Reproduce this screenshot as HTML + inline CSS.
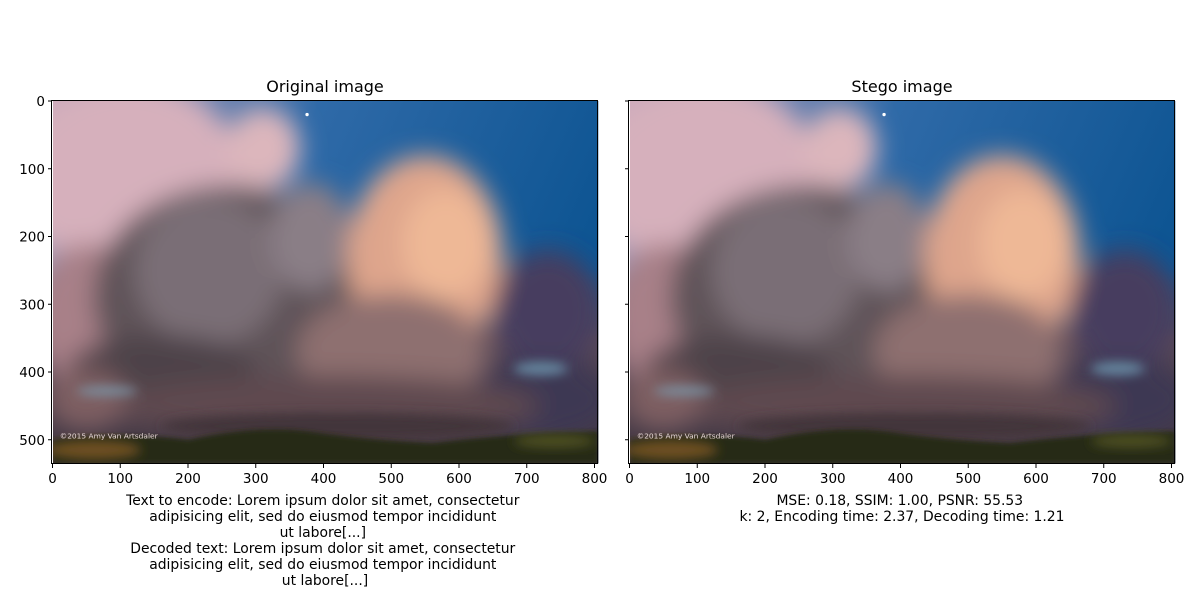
<!DOCTYPE html>
<html><head><meta charset="utf-8"><style>
body{margin:0;background:#fff;width:1200px;height:600px;overflow:hidden;font-family:"Liberation Sans","DejaVu Sans",sans-serif}
svg text{font-family:"DejaVu Sans","Liberation Sans",sans-serif;fill:#000}
</style></head><body>
<svg width="1200" height="600" viewBox="0 0 1200 600" xmlns="http://www.w3.org/2000/svg">
<defs>
<filter id="b20" x="-50%" y="-50%" width="200%" height="200%"><feGaussianBlur stdDeviation="18"/></filter>
<filter id="b8" x="-50%" y="-50%" width="200%" height="200%"><feGaussianBlur stdDeviation="8"/></filter>
<filter id="b3" x="-50%" y="-50%" width="200%" height="200%"><feGaussianBlur stdDeviation="3"/></filter>
<linearGradient id="sky" x1="0" y1="0" x2="1" y2="0.3"><stop offset="0" stop-color="#c9a8bc"/><stop offset="0.45" stop-color="#2f6aa8"/><stop offset="1" stop-color="#0e5593"/></linearGradient>
<linearGradient id="low" x1="0" y1="0" x2="0" y2="1"><stop offset="0" stop-color="#5a4a58" stop-opacity="0"/><stop offset="0.35" stop-color="#5a4a58"/><stop offset="1" stop-color="#3e3440"/></linearGradient>
<clipPath id="clip"><rect x="0" y="0" width="805" height="535"/></clipPath>
<g id="photo" clip-path="url(#clip)">
  <rect x="0" y="0" width="805" height="535" fill="url(#sky)"/>
  <rect x="0" y="250" width="805" height="285" fill="url(#low)"/>
  <g filter="url(#b20)">
    <ellipse cx="110" cy="110" rx="170" ry="140" fill="#d6b0bc"/>
    <ellipse cx="310" cy="70" rx="55" ry="60" fill="#dcb6bc"/>
    <ellipse cx="50" cy="320" rx="80" ry="110" fill="#a88088"/>
    <ellipse cx="260" cy="290" rx="200" ry="165" fill="#5e5258"/>
    <ellipse cx="230" cy="250" rx="110" ry="110" fill="#7a6e76"/>
    <ellipse cx="380" cy="200" rx="60" ry="80" fill="#8a7e86"/>
    <ellipse cx="550" cy="230" rx="115" ry="150" fill="#dea58c"/>
    <ellipse cx="580" cy="210" rx="65" ry="80" fill="#eeb896"/>
    <ellipse cx="500" cy="370" rx="140" ry="85" fill="#8e7070"/>
    <ellipse cx="730" cy="310" rx="80" ry="90" fill="#463e5e"/>
    <ellipse cx="720" cy="440" rx="110" ry="60" fill="#3e3852"/>
    <ellipse cx="160" cy="400" rx="140" ry="55" fill="#4e4248"/>
    <ellipse cx="400" cy="450" rx="320" ry="45" fill="#5e4a50"/>
    <ellipse cx="50" cy="440" rx="60" ry="45" fill="#7e5e62"/>
  </g>
  <g filter="url(#b8)">
    <ellipse cx="720" cy="395" rx="40" ry="10" fill="#6e98b0" opacity="0.8"/>
    <ellipse cx="80" cy="428" rx="45" ry="7" fill="#7a9cb0" opacity="0.8"/>
    <ellipse cx="420" cy="480" rx="260" ry="20" fill="#43363a"/>
  </g>
  <circle cx="375" cy="20" r="2.5" fill="#fff"/>
  <path d="M0,500 Q100,488 200,500 Q300,478 380,488 Q460,500 560,505 Q680,490 805,488 L805,535 L0,535Z" fill="#262c18" filter="url(#b3)"/>
  <ellipse cx="60" cy="515" rx="70" ry="14" fill="#6e5020" filter="url(#b8)"/>
  <ellipse cx="740" cy="502" rx="60" ry="10" fill="#4e5020" filter="url(#b8)"/>
  <text x="10" y="498" font-size="11" style="fill:#e8d8d8">©2015 Amy Van Artsdaler</text>
</g>
</defs>

<g>
  <text x="325" y="92" font-size="16" text-anchor="middle">Original image</text>
  <use href="#photo" transform="translate(53,101) scale(0.6775,0.6775)"/>
  <rect x="51.5" y="100.5" width="546" height="363" fill="none" stroke="#000" stroke-width="1"/>
  <g id="lx"></g>
  <g id="ly"></g>
  <text font-size="13.9" text-anchor="middle">
    <tspan x="325" y="505">Text to encode: Lorem ipsum dolor sit amet, consectetur</tspan>
    <tspan x="325" y="521">adipisicing elit, sed do eiusmod tempor incididunt</tspan>
    <tspan x="325" y="537">ut labore[...]</tspan>
    <tspan x="325" y="553">Decoded text: Lorem ipsum dolor sit amet, consectetur</tspan>
    <tspan x="325" y="569">adipisicing elit, sed do eiusmod tempor incididunt</tspan>
    <tspan x="325" y="585">ut labore[...]</tspan>
  </text>
</g>
<g>
  <text x="902" y="92" font-size="16" text-anchor="middle">Stego image</text>
  <use href="#photo" transform="translate(630,101) scale(0.6775,0.6775)"/>
  <rect x="628.5" y="100.5" width="546" height="363" fill="none" stroke="#000" stroke-width="1"/>
  <g id="rx"></g>
  <g id="ry"></g>
  <text font-size="13.9" text-anchor="middle">
    <tspan x="902" y="505">MSE: 0.18, SSIM: 1.00, PSNR: 55.53</tspan>
    <tspan x="902" y="521">k: 2, Encoding time: 2.37, Decoding time: 1.21</tspan>
  </text>
</g>
</svg>
<script>
const xTicks=[0,100,200,300,400,500,600,700,800];
const yTicks=[0,100,200,300,400,500];
const NS="http://www.w3.org/2000/svg";
const sc=0.6775;
function axes(gx,gy,x0,showY){
  const X=document.getElementById(gx),Y=document.getElementById(gy);
  xTicks.forEach(v=>{
    const px=x0+0.5+v*sc;
    const l=document.createElementNS(NS,'line');
    
    
    l.setAttribute('x1',px);l.setAttribute('x2',px);l.setAttribute('y1',464);l.setAttribute('y2',468);l.setAttribute('stroke','#000');
    X.appendChild(l);
    const t=document.createElementNS(NS,'text');
    
    
    t.setAttribute('x',px);t.setAttribute('y',483);t.setAttribute('font-size','13.5');t.setAttribute('text-anchor','middle');
    t.textContent=v;X.appendChild(t);
  });
  yTicks.forEach(v=>{
    const py=101+v*sc;
    const l=document.createElementNS(NS,'line');
    
    
    l.setAttribute('x1',x0-4);l.setAttribute('x2',x0);l.setAttribute('y1',py);l.setAttribute('y2',py);l.setAttribute('stroke','#000');
    Y.appendChild(l);
    if(showY){
      const t=document.createElementNS(NS,'text');
      
      
      t.setAttribute('x',x0-7);t.setAttribute('y',py+5);t.setAttribute('font-size','13.5');t.setAttribute('text-anchor','end');
      t.textContent=v;Y.appendChild(t);
    }
  });
}
axes('lx','ly',52,true);
axes('rx','ry',629,false);
</script>
</body></html>
